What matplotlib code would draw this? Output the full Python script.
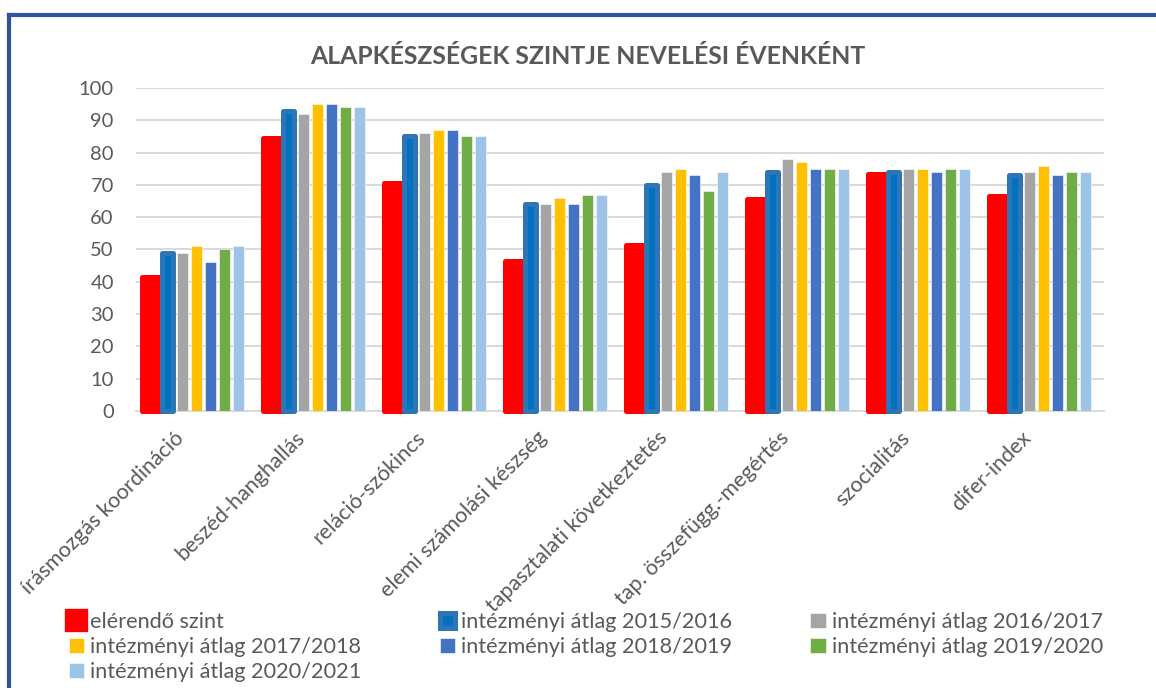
import numpy as np
import matplotlib
matplotlib.use('Agg')
import matplotlib.pyplot as plt
from matplotlib.lines import Line2D
from matplotlib.patches import Patch
from matplotlib.transforms import ScaledTranslation

plt.rcParams['font.family'] = ['Lato', 'DejaVu Sans']

categories = ['írásmozgás koordináció', 'beszéd-hanghallás', 'reláció-szókincs',
              'elemi számolási készség', 'tapasztalati következtetés',
              'tap. összefügg.-megértés', 'szocialitás', 'difer-index']

series_names = ['elérendő szint',
                'intézményi átlag 2015/2016',
                'intézményi átlag 2016/2017',
                'intézményi átlag 2017/2018',
                'intézményi átlag 2018/2019',
                'intézményi átlag 2019/2020',
                'intézményi átlag 2020/2021']

elerendo = [41.5, 84.5, 70.5, 46.5, 51.5, 65.5, 73.5, 66.5]
atlag_2015 = [49, 93, 85, 64, 70, 74, 74, 73]
atlag_2016 = [49, 92, 86, 64, 74, 78, 75, 74]
atlag_2017 = [51, 95, 87, 66, 75, 77, 75, 76]
atlag_2018 = [46, 95, 87, 64, 73, 75, 74, 73]
atlag_2019 = [50, 94, 85, 67, 68, 75, 75, 74]
atlag_2020 = [51, 94, 85, 67, 74, 75, 75, 74]

text_col = '#595959'
grid_col = '#D9D9D9'

fig = plt.figure(figsize=(11.56, 6.88), dpi=100)
ax = fig.add_axes([136/1156, 1-411/688, 968/1156, 323/688])

x = np.arange(len(categories))
bars = []
# the two highlighted series have thick rounded outlines
bars.append(ax.bar(x - 0.368, elerendo, 0.17, color='#FF0000', edgecolor='#FF0000',
                   linewidth=3.6, joinstyle='round', zorder=3, clip_on=False,
                   label=series_names[0]))
bars.append(ax.bar(x - 0.236, atlag_2015, 0.091, color='#0070C0', edgecolor='#2E75B6',
                   linewidth=3.6, joinstyle='round', zorder=4, clip_on=False,
                   label=series_names[1]))
others = [atlag_2016, atlag_2017, atlag_2018, atlag_2019, atlag_2020]
cols = ['#A5A5A5', '#FFC000', '#4472C4', '#70AD47', '#9DC3E6']
offs = [-0.118, 0.0, 0.117, 0.234, 0.351]
for vals, c, o, name in zip(others, cols, offs, series_names[2:]):
    bars.append(ax.bar(x + o, vals, 0.091, color=c, edgecolor='white', linewidth=0.4,
                       zorder=3, label=name))

ax.set_xlim(-0.5, len(categories) - 0.5)
ax.set_ylim(0, 100)
ax.set_yticks(np.arange(0, 101, 10))
ax.yaxis.grid(True, color=grid_col, linewidth=1.4, zorder=0)
ax.set_axisbelow(True)
for s in ['top', 'right', 'left']:
    ax.spines[s].set_visible(False)
ax.spines['bottom'].set_color(grid_col)
ax.spines['bottom'].set_linewidth(1.4)
ax.spines['bottom'].set_zorder(2)

ax.tick_params(axis='y', length=0, pad=16, labelsize=14.5, labelcolor=text_col)
ax.tick_params(axis='x', length=0, pad=17, labelsize=15.5, labelcolor=text_col)
ax.set_xticks(x)
ax.set_xticklabels(categories, rotation=45, ha='right', va='center', rotation_mode='anchor')
shift = ScaledTranslation(-16/100, 0, fig.dpi_scale_trans)
for lbl in ax.get_xticklabels():
    lbl.set_transform(lbl.get_transform() + shift)

fig.text(588/1156, 1-56/688, 'ALAPKÉSZSÉGEK SZINTJE NEVELÉSI ÉVENKÉNT',
         ha='center', va='center', fontsize=17.8, fontweight='bold', color=text_col)

# red key is drawn bigger and rounder in the original
handles = list(bars)
handles[0] = Patch(facecolor='#FF0000', edgecolor='#FF0000', linewidth=6, joinstyle='round')

# legend fills column by column, reorder so rows read like the original
order = [0, 3, 6, 1, 4, 2, 5]
fig.legend([handles[i] for i in order], [series_names[i] for i in order],
           ncol=3, loc='upper left', bbox_to_anchor=(60/1156, 1-603/688),
           frameon=False, fontsize=15.6, labelcolor=text_col,
           handlelength=0.7, handleheight=0.7, handletextpad=0.3,
           labelspacing=0.24, columnspacing=3.6, borderaxespad=0)

# dark blue frame on the top and left edge
fig.add_artist(Line2D([9/1156, 1], [1-15/688, 1-15/688], color='#2F5597', linewidth=3,
                      transform=fig.transFigure))
fig.add_artist(Line2D([9/1156, 9/1156], [0, 1-15/688], color='#2F5597', linewidth=3,
                      transform=fig.transFigure))

fig.savefig('out.png', dpi=100)
